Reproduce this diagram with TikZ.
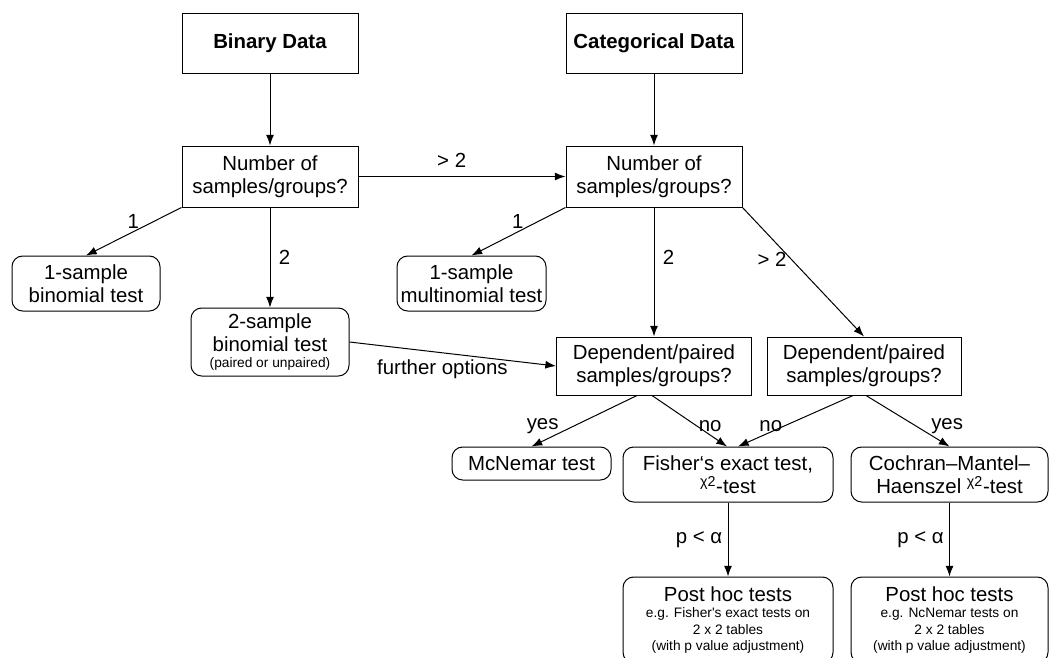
\documentclass[tikz,border=0pt]{standalone}
\usepackage{fontspec}
\setmainfont{Liberation Sans}
\usetikzlibrary{arrows.meta, calc, positioning}
\newcommand{\smalltxt}{\fontsize{10.3}{12.3}\selectfont}

\begin{document}
\begin{tikzpicture}[x=0.75pt, y=-0.75pt, >={Latex[length=8pt, width=6pt]},
    font=\fontsize{15.3}{17.4}\selectfont, line width=0.75pt,
    sz/.style 2 args={minimum width=#1*0.75pt, minimum height=#2*0.75pt},
    quest/.style={draw, align=center, inner sep=0pt},
    test/.style={quest, rounded corners=8pt},
    lbl/.style={inner sep=1pt}]

    \useasboundingbox (0,0) rectangle (1056,657);

    % data types and the first question
    \node[quest, sz={176}{60}] (bin) at (270,43) {\textbf{Binary Data}};
    \node[quest, sz={176}{60}] (cat) at (654,43) {\textbf{Categorical Data}};
    \node[quest, sz={176}{61}] (numL) at (270,176.5) {Number of\\samples/groups?};
    \node[quest, sz={176}{61}] (numR) at (654,176.5) {Number of\\samples/groups?};

    % one and two samples
    \node[test, sz={148}{55}] (one1) at (86,283.5) {1-sample\\binomial test};
    \node[test, sz={158}{68}] (two) at (270,342) {2-sample\\binomial test\\[-5.4pt]{\smalltxt (paired or unpaired)}};
    \node[test, sz={149}{55}] (one2) at (471.5,283.5) {1-sample\\multinomial test};

    % paired or not
    \node[quest, sz={195}{58}] (depL) at (654,366) {Dependent/paired\\samples/groups?};
    \node[quest, sz={194}{58}] (depR) at (864,366) {Dependent/paired\\samples/groups?};

    \node[test, sz={159}{33}] (mcn) at (531.5,463.5) {McNemar test};
    \node[test, sz={210}{55}] (fish) at (728,474.5) {Fisher‘s exact test,\\\textsuperscript{χ2}-test};
    \node[test, sz={197}{55}] (coch) at (949.5,474.5) {Cochran–Mantel–\\Haenszel \textsuperscript{χ2}-test};

    % post hoc
    \node[test, sz={210}{86}] (postL) at (728,620) {Post hoc tests\\[-5pt]{\smalltxt e.g. Fisher\textquotesingle s exact tests on}\\[-5pt]{\smalltxt 2 x 2 tables}\\[-5pt]{\smalltxt (with p value adjustment)}};
    \node[test, sz={197}{86}] (postR) at (949.5,620) {Post hoc tests\\[-5pt]{\smalltxt e.g. NcNemar tests on}\\[-5pt]{\smalltxt 2 x 2 tables}\\[-5pt]{\smalltxt (with p value adjustment)}};

    \draw[->] (bin) -- (numL);
    \draw[->] (cat) -- (numR);
    \draw[->] (numL) -- node[lbl, above=5.5pt, pos=0.45] (g1) {> 2} (numR);
    \draw[->] (numL.south west) -- node[lbl, left=9pt, pos=0.3] (n1) {1} (one1.north);
    \draw[->] (numL.south) -- node[lbl, right=5.3pt, pos=0.5] (n2) {2} (two.north);
    \draw[->] (numR.south west) -- node[lbl, left=9pt, pos=0.3] (m1) {1} (one2.north);
    \draw[->] (numR.south) -- node[lbl, right=5.3pt, pos=0.39] (m2) {2} (depL.north);
    \draw[->] (numR.south east) -- node[lbl, left=2pt, pos=0.4] (m3) {> 2} (depR.north);
    \draw[->] (two.east) -- node[lbl, below=3.9pt, pos=0.45] (fo) {further options} (depL.west);

    \draw[->] ($(depL.south)+(-17,0)$) -- node[lbl, left=10pt, pos=0.6] (y1) {yes} (mcn.north);
    \draw[->] ($(depL.south)+(-2,0)$) -- node[lbl, right=0pt, pos=0.6] (n3) {no} ($(fish.north)+(-1,0)$);
    \draw[->] ($(depR.south)+(-11,0)$) -- node[lbl, left=0pt, pos=0.6] (n4) {no} ($(fish.north)+(10,0)$);
    \draw[->] ($(depR.south)+(2,0)$) -- node[lbl, right=10pt, pos=0.6] (y2) {yes} (coch.north);

    \draw[->] (fish) -- node[lbl, left=3pt] (pa1) {p < α} (postL);
    \draw[->] (coch) -- node[lbl, left=3pt] (pa2) {p < α} (postR);
\end{tikzpicture}
\end{document}
